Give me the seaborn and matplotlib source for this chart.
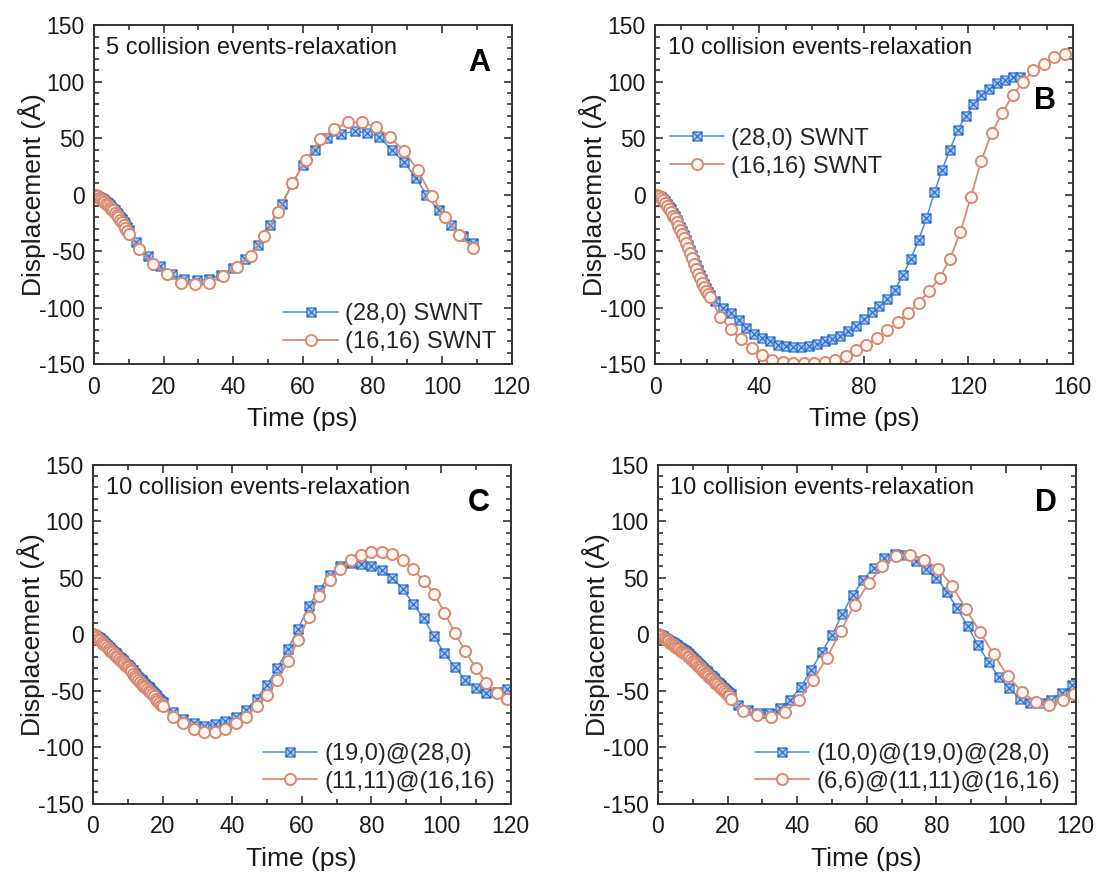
import matplotlib
matplotlib.use("Agg")
import matplotlib.pyplot as plt
from matplotlib.path import Path
from matplotlib.ticker import MultipleLocator
import seaborn as sns

# ---- panel A: 5 collision events ----
a_blue_t = [0, 0.5, 1, 1.5, 2, 2.5, 3, 3.5, 4, 4.5, 5, 5.5, 6, 6.5, 7, 7.5, 8, 8.5, 9, 9.5, 10,
            12, 15.5, 19, 22.5, 26, 29.5, 33, 36.5, 40, 43.5, 47, 50.5, 54, 57, 60, 63.5, 67, 71,
            75, 78.5, 82, 85.5, 89, 92.5, 95.5, 99, 102.5, 106, 109]
a_blue_d = [0, -0.3, -1, -1.8, -2.7, -3.7, -5, -6.3, -7.7, -9.2, -10.7, -12.3, -14, -15.8, -17.7,
            -19.7, -21.8, -24, -26.3, -28.7, -31.2,
            -42, -54, -63, -70, -75, -76, -75, -71, -65, -57, -45, -27, -8, 10, 26, 40, 50, 54,
            56, 55, 51, 40, 29, 15, 0, -14, -27, -37, -43]
a_orng_t = [0, 0.5, 1, 1.5, 2, 2.5, 3, 3.5, 4, 4.5, 5, 5.5, 6, 6.5, 7, 7.5, 8, 8.5, 9, 9.5, 10,
            13, 17, 21, 25, 29, 33, 37, 41, 45, 49, 53, 57, 61, 65, 69, 73, 77, 81, 85, 89, 93,
            97, 101, 105, 109]
a_orng_d = [0, -0.5, -1.5, -2.5, -3.5, -5, -6.5, -8, -9.5, -11, -12.5, -14, -16, -18, -20, -22,
            -24.5, -27, -29.5, -32, -34.5,
            -48, -61, -70, -78, -79, -78, -72, -64, -54, -37, -15, 10, 31, 49, 58, 64, 64, 60,
            51, 39, 22, -1, -20, -36, -47]

# ---- panel B: 10 collision events, single wall ----
b_dense_t = [0, 0.75, 1.5, 2.25, 3, 3.75, 4.5, 5.25, 6, 6.75, 7.5, 8.25, 9, 9.75, 10.5, 11.25,
             12, 12.75, 13.5, 14.25, 15, 15.75, 16.5, 17.25, 18, 18.75, 19.5, 20.25, 21]
b_blue_t = b_dense_t + [23, 26, 29, 32, 35, 38, 41, 44, 47, 50, 53, 56, 59, 62, 65, 68, 71, 74,
                        77, 80, 83, 86, 89, 92, 95, 98, 101, 104, 107, 110, 113, 116, 119, 122,
                        125, 128, 131, 134, 137, 140]
b_blue_d = [0, 0, -1, -2, -3.5, -5.5, -8, -10.5, -13, -16, -19, -22, -25, -28.5, -32, -36, -40,
            -44.5, -49, -53.5, -58, -62.5, -67, -71, -75, -79, -82.5, -86, -89,
            -94, -100, -105, -111, -118, -123, -127, -130, -133, -134, -135, -135, -134, -132,
            -130, -128, -125, -121, -116, -110, -104, -99, -92, -84, -71, -57, -40, -21, 2, 22,
            40, 57, 70, 80, 88, 94, 99, 102, 104, 104]
b_orng_t = b_dense_t + [25, 29, 33, 37, 41, 45, 49, 53, 57, 61, 65, 69, 73, 77, 81, 85, 89, 93,
                        97, 101, 105, 109, 113, 117, 121, 125, 129, 133, 137, 141, 145, 149,
                        153, 157]
b_orng_d = [0, -0.5, -1.5, -3, -5, -7.5, -10, -12.5, -15.5, -18.5, -21, -24, -27.5, -31, -34.5,
            -38.5, -43, -47.5, -52, -56.5, -61, -65.5, -70, -74, -78, -81.5, -85, -88, -91,
            -108, -119, -128, -136, -142, -146, -148, -149, -149, -149, -148, -146, -143, -138,
            -133, -127, -120, -113, -105, -96, -85, -74, -57, -33, -2, 30, 55, 72, 88, 100,
            110, 116, 122, 125]

# ---- panel C: double wall ----
c_dense_t = [0, 0.5, 1, 1.5, 2, 2.5, 3, 3.5, 4, 4.5, 5, 5.5, 6, 6.5, 7, 7.5, 8, 8.5, 9, 9.5, 10,
             10.5, 11, 11.5, 12, 12.5, 13, 13.5, 14, 14.5, 15, 15.5, 16, 16.5, 17, 17.5, 18,
             18.5, 19, 19.5, 20]
c_sparse_t = [23, 26, 29, 32, 35, 38, 41, 44, 47, 50, 53, 56, 59, 62, 65, 68, 71, 74, 77, 80,
              83, 86, 89, 92, 95, 98, 101, 104, 107, 110, 113, 116, 119]
c_blue_t = c_dense_t + c_sparse_t
c_blue_d = [0, -0.5, -1.5, -2.5, -3.5, -5, -6.5, -8, -9.5, -11, -12.5, -14, -15.5, -17, -18.5,
            -20, -21.5, -23, -24.5, -26, -27.5, -29, -30.5, -32, -34, -36, -38, -39.5, -41,
            -42.5, -44, -45.5, -47, -48.5, -50, -52, -54, -56, -57.5, -59, -60.5,
            -69, -75, -79, -81, -80, -77, -73, -67, -57, -45, -30, -13, 5, 25, 39, 52, 60, 63,
            62, 60, 57, 50, 40, 27, 14, -2, -17, -29, -41, -48, -52, -51, -49]
c_orng_t = c_dense_t + c_sparse_t
c_orng_d = [0, -1, -2.5, -4, -5.5, -7, -8.5, -10, -11.5, -13, -14.5, -16, -17.5, -19, -20.5,
            -22, -23.5, -25, -26.5, -28, -29.5, -31, -33, -35, -37, -39, -41, -42.5, -44,
            -45.5, -47, -48.5, -50, -51.5, -53, -55, -57, -59, -61, -62.5, -64,
            -73, -79, -84, -87, -87, -84, -79, -73, -64, -54, -41, -24, -5, 15, 34, 48, 58, 66,
            70, 73, 73, 71, 66, 58, 47, 36, 19, 1, -15, -30, -43, -52, -57]

# ---- panel D: triple wall ----
d_dense_t = [0, 0.5, 1, 1.5, 2, 2.5, 3, 3.5, 4, 4.5, 5, 5.5, 6, 6.5, 7, 7.5, 8, 8.5, 9, 9.5, 10,
             10.5, 11, 11.5, 12, 12.5, 13, 13.5, 14, 14.5, 15, 15.5, 16, 16.5, 17, 17.5, 18,
             18.5, 19, 19.5, 20, 20.5, 21]
d_blue_t = d_dense_t + [23, 26, 29, 32, 35, 38, 41, 44, 47, 50, 53, 56, 59, 62, 65, 68, 71, 74,
                        77, 80, 83, 86, 89, 92, 95, 98, 101, 104, 107, 110, 113, 116, 119]
d_blue_d = [0, -0.5, -1, -2, -3, -4, -5, -6, -7, -8, -9, -10, -11, -12, -13, -14, -15, -16.5,
            -18, -19.5, -21, -22.5, -24, -25.5, -27, -28.5, -30, -31.5, -33, -34.5, -36, -37.5,
            -39, -40.5, -42, -43.5, -45, -46.5, -48, -49.5, -51, -52, -53,
            -63, -67, -70, -70, -65, -58, -47, -32, -16, -1, 18, 35, 48, 59, 67, 71, 70, 65,
            58, 50, 37, 23, 7, -10, -25, -38, -48, -57, -61, -61, -58, -52, -45]
d_orng_t = d_dense_t + [24.5, 28.5, 32.5, 36.5, 40.5, 44.5, 48.5, 52.5, 56.5, 60.5, 64.5, 68.5,
                        72.5, 76.5, 80.5, 84.5, 88.5, 92.5, 96.5, 100.5, 104.5, 108.5, 112.5,
                        116.5, 119.5]
d_orng_d = [0, -1, -2, -3, -4, -5.5, -6.5, -7.5, -8.5, -10, -11, -12, -13, -14.5, -15.5, -16.5,
            -18, -19, -20.5, -22, -23.5, -25, -26.5, -28, -29.5, -31, -32.5, -34, -35.5, -37,
            -38.5, -40, -41.5, -43, -44.5, -46, -47.5, -49, -50.5, -52, -53.5, -55, -57,
            -68, -72, -73, -69, -58, -41, -21, 3, 26, 45, 60, 69, 70, 66, 58, 43, 22, 2, -18,
            -37, -51, -60, -63, -58, -53]

notes = ["5 collision events-relaxation", "10 collision events-relaxation",
         "10 collision events-relaxation", "10 collision events-relaxation"]
letters = ["A", "B", "C", "D"]
blue_labels = ["(28,0) SWNT", "(28,0) SWNT", "(19,0)@(28,0)", "(10,0)@(19,0)@(28,0)"]
orng_labels = ["(16,16) SWNT", "(16,16) SWNT", "(11,11)@(16,16)", "(6,6)@(11,11)@(16,16)"]

BLUE = "#4a8ede"
BLUE_EDGE = "#2f6fd0"
BLUE_FACE = "#a9c9f2"
ORNG = "#da8a70"
ORNG_FACE = "#fff6f2"
INK = "#1a1a1a"

sns.set_style("ticks")
plt.rcParams['font.family'] = ['Liberation Sans', 'DejaVu Sans']
plt.rcParams['axes.unicode_minus'] = False
plt.rcParams['xtick.direction'] = 'in'
plt.rcParams['ytick.direction'] = 'in'
plt.rcParams['xtick.top'] = True
plt.rcParams['ytick.right'] = True

# square with a cross inside
sq_x = Path([(-1, -1), (1, -1), (1, 1), (-1, 1), (-1, -1), (-1, -1), (1, 1), (-1, 1), (1, -1)],
            [Path.MOVETO, Path.LINETO, Path.LINETO, Path.LINETO, Path.CLOSEPOLY,
             Path.MOVETO, Path.LINETO, Path.MOVETO, Path.LINETO])

fig = plt.figure(figsize=(10.99, 8.73), dpi=100)
boxes = [[0.0855, 0.583, 0.380, 0.388], [0.596, 0.583, 0.380, 0.388],
         [0.0846, 0.0796, 0.380, 0.388], [0.5987, 0.0796, 0.380, 0.388]]
data = [(a_blue_t, a_blue_d, a_orng_t, a_orng_d), (b_blue_t, b_blue_d, b_orng_t, b_orng_d),
        (c_blue_t, c_blue_d, c_orng_t, c_orng_d), (d_blue_t, d_blue_d, d_orng_t, d_orng_d)]
xmaxes = [120, 160, 120, 120]
letter_pos = [(0.95, 0.888), (0.96, 0.776), (0.95, 0.888), (0.955, 0.888)]

for i in range(4):
    ax = fig.add_axes(boxes[i])
    bt, bd, ot, od = data[i]
    sns.lineplot(x=bt, y=bd, ax=ax, color=BLUE, linewidth=1.1, marker=sq_x, markersize=6.5,
                 markerfacecolor=BLUE_FACE, markeredgecolor=BLUE_EDGE, markeredgewidth=0.9,
                 label=blue_labels[i], sort=False, estimator=None)
    sns.lineplot(x=ot, y=od, ax=ax, color=ORNG, linewidth=1.3, marker='o', markersize=8,
                 markerfacecolor=ORNG_FACE, markeredgecolor=ORNG, markeredgewidth=1.4,
                 label=orng_labels[i], sort=False, estimator=None)
    ax.set_xlim(0, xmaxes[i])
    ax.set_ylim(-150, 150)
    ax.yaxis.set_major_locator(MultipleLocator(50))
    ax.yaxis.set_minor_locator(MultipleLocator(10))
    ax.xaxis.set_major_locator(MultipleLocator(40 if xmaxes[i] == 160 else 20))
    ax.xaxis.set_minor_locator(MultipleLocator(10))
    ax.tick_params(which='both', colors='#333333', labelcolor=INK, labelsize=16.5, width=1.2,
                   top=True, right=True)
    ax.tick_params(axis='x', which='both', pad=8.5)
    ax.tick_params(axis='y', which='both', pad=6.5)
    ax.tick_params(which='major', length=6)
    ax.tick_params(which='minor', length=3.5)
    for s in ax.spines.values():
        s.set_color('#333333')
        s.set_linewidth(1.4)
    ax.set_xlabel("Time (ps)", fontsize=19, color=INK, labelpad=6)
    ax.set_ylabel("Displacement (Å)", fontsize=19, color=INK, labelpad=-5)
    ax.text(0.03, 0.932, notes[i], transform=ax.transAxes, fontsize=17, color=INK, va='center')
    ax.text(letter_pos[i][0], letter_pos[i][1], letters[i], transform=ax.transAxes,
            fontsize=22, fontweight='bold', color='black', ha='right', va='center')
    if i == 1:
        ax.legend(loc='center left', bbox_to_anchor=(-0.015, 0.624), frameon=False, fontsize=17,
                  handlelength=2.3, handletextpad=0.3, labelspacing=0.25)
    else:
        ax.legend(loc='lower right', bbox_to_anchor=(0.985, 0.004), borderaxespad=0,
                  frameon=False, fontsize=17, handlelength=2.3, handletextpad=0.3,
                  labelspacing=0.25)

fig.savefig("out.png", dpi=100, facecolor='white')
